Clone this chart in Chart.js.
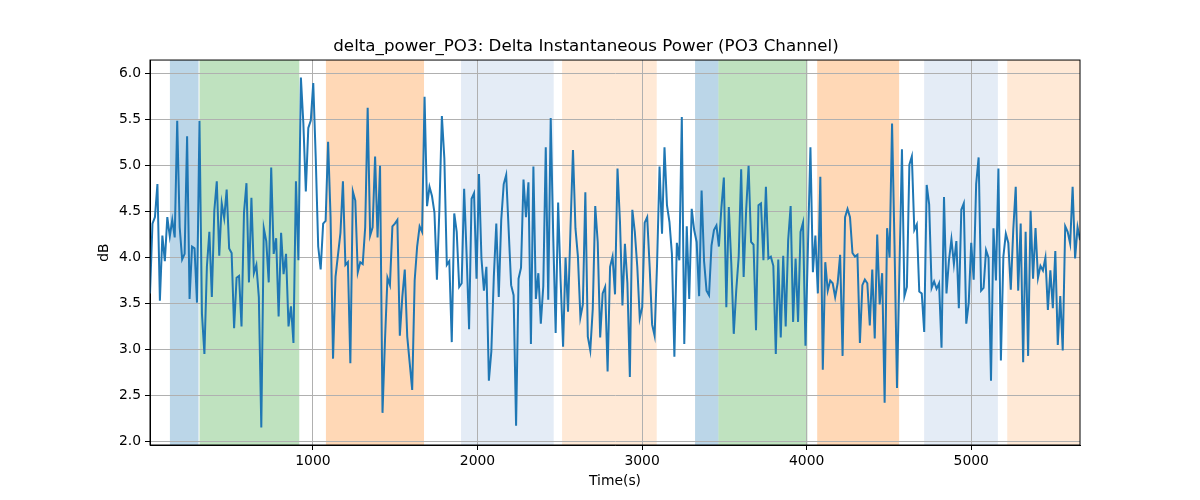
<!DOCTYPE html>
<html>
<head>
<meta charset="utf-8">
<script src="https://cdn.jsdelivr.net/npm/chart.js@4/dist/chart.umd.min.js"></script>
<style>
  body { margin: 0; background: #fff; }
  #wrap { width: 1200px; height: 500px; }
</style>
</head>
<body>
<div id="wrap"><canvas id="powerChart" width="1200" height="500"></canvas></div>
<script>
// sampling grid of the recording
var t0 = 10;
var dt = 15.03;

// delta power, dB
var power = [
  3.61, 4.37, 4.44, 4.80, 3.53, 4.24, 3.96, 4.44, 4.23, 4.41,
  4.22, 5.49, 4.33, 3.98, 4.04, 5.32, 3.55, 4.12, 4.10, 3.51,
  5.49, 3.39, 2.95, 3.90, 4.28, 3.57, 4.51, 4.83, 4.02, 4.59,
  4.43, 4.74, 4.10, 4.05, 3.23, 3.78, 3.80, 3.25, 4.49, 4.81,
  3.73, 4.65, 3.83, 3.92, 3.57, 2.15, 4.32, 4.18, 3.73, 4.98,
  4.04, 4.21, 3.36, 4.27, 3.82, 4.04, 3.25, 3.47, 3.07, 4.83,
  3.97, 5.96, 5.46, 4.72, 5.41, 5.49, 5.90, 5.09, 4.12, 3.87,
  4.37, 4.40, 5.26, 4.44, 2.90, 3.79, 4.03, 4.27, 4.83, 3.92,
  3.95, 2.85, 4.72, 4.62, 3.84, 3.95, 3.93, 4.33, 5.63, 4.24,
  4.33, 5.10, 4.22, 5.00,
  2.31, 3.10, 3.78, 3.70, 4.34, 4.37, 4.41, 3.15, 3.57, 3.87,
  3.14, 2.85, 2.56, 3.75, 4.12, 4.34, 4.28, 5.75, 4.56, 4.77,
  4.67, 4.49, 3.76, 4.53, 5.54, 5.08, 3.92, 3.96, 3.08, 4.48,
  4.28, 3.68, 3.72, 4.75, 4.03, 3.22, 4.64, 4.70, 3.77, 4.91,
  3.99, 3.64, 3.90, 2.66, 2.98, 3.79, 4.37, 3.57, 4.41, 4.80,
  4.90, 4.30, 3.70, 3.59, 2.17, 3.77, 3.89, 4.85, 4.44, 4.82,
  3.06, 4.99, 3.55, 3.83, 3.28, 3.69, 5.20, 3.54, 5.52, 4.25,
  3.18, 4.60, 3.75, 3.03, 4.00, 3.41, 4.32, 5.17, 4.32, 4.01,
  3.35, 3.49, 4.71, 3.14, 2.99, 3.44, 4.56, 4.17, 3.13, 3.61,
  3.68, 2.76, 3.90,
  4.01, 3.60, 4.97, 4.39, 3.48, 4.15, 3.72, 2.70, 4.52, 4.28,
  3.90, 3.34, 3.46, 4.38, 4.44, 3.90, 3.27, 3.15, 3.93, 4.99,
  4.26, 5.20, 4.57, 4.39, 4.04, 2.92, 4.16, 3.97, 5.53, 3.06,
  4.34, 3.55, 4.53, 4.30, 4.17, 3.58, 4.73, 3.96, 3.64, 3.59,
  4.13, 4.30, 4.35, 4.12, 4.54, 4.87, 3.46, 4.55, 3.94, 3.17,
  3.64, 4.01, 4.96, 3.79, 4.51, 5.00, 4.17, 4.14, 3.21, 4.57,
  4.59, 3.97, 4.77, 3.99, 4.01, 3.91, 2.95, 3.98, 3.13, 4.02,
  3.25, 4.19, 4.56, 3.30, 3.99, 3.30, 4.28, 4.38, 3.04, 4.12,
  5.20, 3.84, 4.24, 3.61, 4.88, 2.78, 3.95, 3.64, 3.75, 3.72,
  3.57, 3.72, 4.03,
  2.93, 4.44, 4.53, 4.44, 4.05, 4.01, 4.03, 3.07, 3.70, 3.76,
  3.72, 3.26, 3.87, 3.12, 4.25, 3.49, 3.83, 2.42, 4.32, 4.00,
  5.46, 4.13, 2.58, 3.88, 5.18, 3.58, 3.68, 5.01, 5.10, 4.30,
  4.36, 3.63, 3.61, 3.19, 4.79, 4.58, 3.67, 3.74, 3.66, 3.72,
  3.02, 4.66, 3.61, 3.97, 4.20, 3.93, 4.18, 3.45, 4.52, 4.59,
  3.28, 3.51, 4.16, 3.76, 4.80, 5.09, 3.64, 3.67, 4.08, 4.00,
  2.66, 4.32, 3.75, 4.97, 2.88, 4.01, 4.26, 4.16, 3.65, 4.30,
  4.77, 3.64, 4.37, 2.86, 4.28, 2.93, 4.51, 3.77, 4.32, 3.78,
  3.91, 3.86, 4.00, 3.43, 3.86, 3.45, 4.07, 3.05, 3.58, 2.99,
  4.34, 4.28, 4.15, 4.77, 3.99, 4.33, 4.19
];

// shaded phases (seconds)
var bandStart = [131, 311, 1079, 1900, 2514, 3322, 3464, 4064, 4714, 5219];
var bandEnd   = [305, 917, 1675, 2463, 3089, 3464, 4005, 4562, 5162, 5663];
var bandColor = [
  "rgba(31,119,180,0.3)", "rgba(44,160,44,0.3)", "rgba(255,127,14,0.3)",
  "rgb(228,236,246)", "rgb(255,233,214)",
  "rgba(31,119,180,0.3)", "rgba(44,160,44,0.3)", "rgba(255,127,14,0.3)",
  "rgb(228,236,246)", "rgb(255,233,214)"
];

var xTicks = [1000, 2000, 3000, 4000, 5000];
var yTicks = [2.0, 2.5, 3.0, 3.5, 4.0, 4.5, 5.0, 5.5, 6.0];

var points = power.map(function (v, i) { return {x: t0 + i * dt, y: v}; });

var bands = {
  id: "bands",
  beforeDraw: function (chart) {
    var ctx = chart.ctx, a = chart.chartArea, x = chart.scales.x;
    ctx.save();
    ctx.beginPath();
    ctx.rect(a.left, a.top, a.right - a.left, a.bottom - a.top);
    ctx.clip();
    for (var i = 0; i < bandStart.length; i++) {
      var l = x.getPixelForValue(bandStart[i]);
      var r = x.getPixelForValue(bandEnd[i]);
      ctx.fillStyle = bandColor[i];
      ctx.fillRect(l, a.top, r - l, a.bottom - a.top);
    }
    ctx.restore();
  },
  afterDraw: function (chart) {
    var ctx = chart.ctx, a = chart.chartArea;
    ctx.save();
    ctx.strokeStyle = "#000";
    ctx.lineWidth = 1;
    ctx.strokeRect(a.left, a.top, a.right - a.left, a.bottom - a.top);
    ctx.restore();
  }
};

Chart.defaults.font.family = "'DejaVu Sans', sans-serif";
Chart.defaults.color = "#000";

new Chart("powerChart", {
  type: "line",
  data: {
    datasets: [{
      data: points,
      borderColor: "#1f77b4",
      borderWidth: 2,
      pointRadius: 0,
      tension: 0
    }]
  },
  options: {
    responsive: false,
    animation: false,
    devicePixelRatio: 1,
    layout: {padding: {left: 92, right: 120, top: 0, bottom: 6}},
    plugins: {
      legend: {display: false},
      tooltip: {enabled: false},
      title: {
        display: true,
        text: "delta_power_PO3: Delta Instantaneous Power (PO3 Channel)",
        font: {size: 16.7, weight: "normal"},
        padding: {top: 37, bottom: 3}
      }
    },
    scales: {
      x: {
        type: "linear",
        min: t0,
        max: 5661,
        afterFit: function (s) { s.height = 49; },
        afterBuildTicks: function (s) { s.ticks = xTicks.map(function (v) { return {value: v}; }); },
        ticks: {font: {size: 13.9}, padding: 3, maxRotation: 0, autoSkip: false,
                callback: function (v) { return String(v); }},
        grid: {color: "#b0b0b0", lineWidth: 1, tickColor: "#000", tickLength: 5},
        border: {color: "#000", width: 1},
        title: {display: true, text: "Time(s)", font: {size: 13.9}, padding: {top: 4, bottom: 4}}
      },
      y: {
        min: 1.96,
        max: 6.15,
        afterFit: function (s) { s.width = 58; },
        afterBuildTicks: function (s) { s.ticks = yTicks.map(function (v) { return {value: v}; }); },
        ticks: {font: {size: 13.9}, padding: 4, autoSkip: false,
                callback: function (v) { return v.toFixed(1); }},
        grid: {color: "#b0b0b0", lineWidth: 1, tickColor: "#000", tickLength: 5},
        border: {color: "#000", width: 1},
        title: {display: true, text: "dB", font: {size: 13.9}, padding: {top: 4, bottom: 4}}
      }
    }
  },
  plugins: [bands]
});
</script>
</body>
</html>
